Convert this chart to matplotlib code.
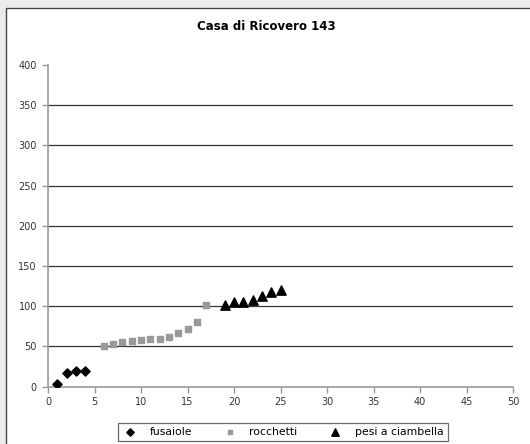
import matplotlib
matplotlib.use("Agg")
import matplotlib.pyplot as plt
from matplotlib.patches import Rectangle

# data
fus_x = [1, 2, 3, 4]
fus_y = [3, 17, 19, 19]
roc_x = [6, 7, 8, 9, 10, 11, 12, 13, 14, 15, 16, 17]
roc_y = [50, 53, 55, 57, 58, 59, 59, 62, 66, 72, 80, 102]
pesi_x = [19, 20, 21, 22, 23, 24, 25]
pesi_y = [101, 105, 105, 108, 113, 117, 120]

labels = ["fusaiole", "rocchetti", "pesi a ciambella"]
title = "Casa di Ricovero 143"


def main():
    fig = plt.figure(figsize=(5.3, 4.44), dpi=100)
    fig.patch.set_facecolor("#ebebeb")
    # white chart area with border, kept behind the axes
    fig.patches.append(Rectangle((6 / 530, -0.05), 1.0, 1 - 8 / 444 + 0.05,
                                 transform=fig.transFigure, facecolor="white",
                                 edgecolor="#444444", linewidth=1.0, zorder=-10))

    ax = fig.add_axes([48 / 530, 1 - 386.5 / 444, (513 - 48) / 530, (386.5 - 65) / 444])
    ax.set_facecolor("none")

    ax.scatter(fus_x, fus_y, marker="D", s=22, color="black", label=labels[0], zorder=3)
    ax.scatter(roc_x, roc_y, marker="s", s=20, color="#999999", label=labels[1], zorder=3)
    ax.scatter(pesi_x, pesi_y, marker="^", s=45, color="black", label=labels[2], zorder=3)

    ax.set_xlim(0, 50)
    ax.set_ylim(0, 400)
    ax.set_xticks(range(0, 51, 5))
    ax.set_yticks(range(0, 401, 50))
    for y in range(50, 400, 50):
        ax.axhline(y, color="#333333", linewidth=0.9, zorder=1)

    for s in ["top", "right"]:
        ax.spines[s].set_visible(False)
    for s in ["left", "bottom"]:
        ax.spines[s].set_color("#999999")
        ax.spines[s].set_linewidth(1.2)
    ax.tick_params(axis="both", colors="#999999", length=4, width=1,
                   labelcolor="#333333", labelsize=7)
    ax.tick_params(axis="y", pad=4)

    fig.text(266 / 530, 1 - 27 / 444, title, ha="center", va="center",
             fontsize=8.5, fontweight="bold")

    leg = ax.legend(loc="center", bbox_to_anchor=(283 / 530, 1 - 432 / 444),
                    bbox_transform=fig.transFigure, ncol=3, fontsize=7.8,
                    frameon=True, fancybox=False, edgecolor="#444444",
                    handletextpad=1.1, columnspacing=2.8, borderpad=0.4,
                    handlelength=1.4, scatterpoints=1, markerscale=0.8)
    leg.get_frame().set_linewidth(0.9)

    fig.savefig("out.png", dpi=100, facecolor=fig.get_facecolor())


if __name__ == "__main__":
    main()
